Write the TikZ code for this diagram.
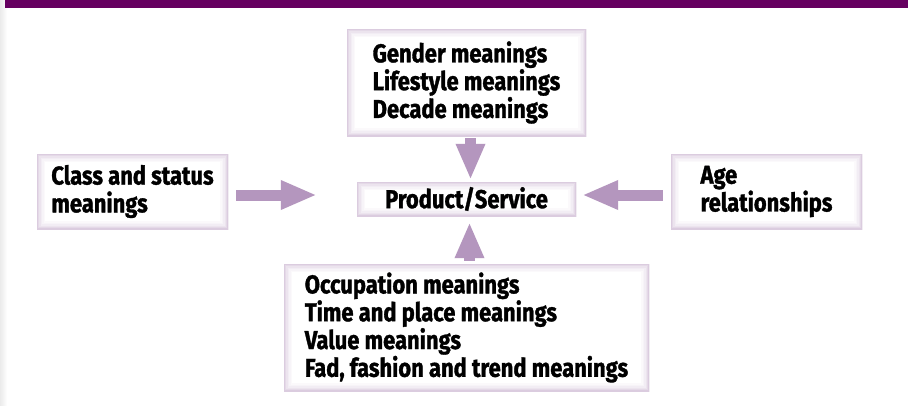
\documentclass[tikz,border=0pt]{standalone}
\usepackage{fontspec}
\setmainfont{Fira Sans}[FakeStretch=0.85, BoldFeatures={FakeBold=1.3}]
\usetikzlibrary{arrows.meta}

\definecolor{barpurple}{HTML}{660060}
\definecolor{glow}{HTML}{CDB8D3}
\definecolor{arrowpurple}{HTML}{B496BE}

\tikzset{
  glowbox/.style={inner sep=0pt, minimum height=#1, align=left,
    path picture={
      \foreach \w/\c in {16/8,13/16,10/26,7/38,4/54,2/72}
        \draw[glow!\c, line width=\w pt] (path picture bounding box.south west)
          rectangle (path picture bounding box.north east);}},
  bigarrow/.style={draw=arrowpurple, line width=11pt,
    -{Triangle[length=36pt,width=27pt]}}
}

\begin{document}
\begin{tikzpicture}[x=1pt,y=-1pt,
    font=\bfseries\fontsize{25.8}{27.8}\selectfont]

        \useasboundingbox (0,0) rectangle (908,405);
        \fill[white] (0,0) rectangle (908,405);
        \shade[left color=black!8, right color=white] (0,0) rectangle (7,405);
        \fill[barpurple] (5,0) rectangle (908,8);

        % boxes round the centre
        \node (gender) at (466.5,82.5) [glowbox=107pt, minimum width=239pt]
          {Gender meanings\\Lifestyle meanings\\Decade meanings};
        \node (prod) at (466.5,199) [glowbox=34pt, minimum width=219pt]
          {Product/Service};
        \node (class) at (132.5,191.5) [glowbox=75pt, minimum width=191pt]
          {Class and status\\meanings};
        \node (age) at (766.5,191.5) [glowbox=75pt, minimum width=191pt]
          {Age\\relationships};
        \node (occ) at (466.5,327.5) [glowbox=127pt, minimum width=365pt]
          {Occupation meanings\\Time and place meanings\\Value meanings\\Fad, fashion and trend meanings};

        % arrows into the centre
        \draw[bigarrow, shorten <=2pt, shorten >=2pt] ([xshift=4pt]gender.south) -- ([xshift=4pt]prod.north);
        \draw[bigarrow, shorten <=3pt, shorten >=6pt] ([xshift=3pt]occ.north) -- ([xshift=3pt]prod.south);
        \draw[bigarrow, shorten <=8pt, shorten >=40pt] ([yshift=-3.5pt]class.east) -- ([yshift=-3.5pt]class.east -| prod.west);
        \draw[bigarrow, shorten <=8pt, shorten >=6pt] ([yshift=-3.5pt]age.west) -- ([yshift=-3.5pt]age.west -| prod.east);

      \end{tikzpicture}
\end{document}
